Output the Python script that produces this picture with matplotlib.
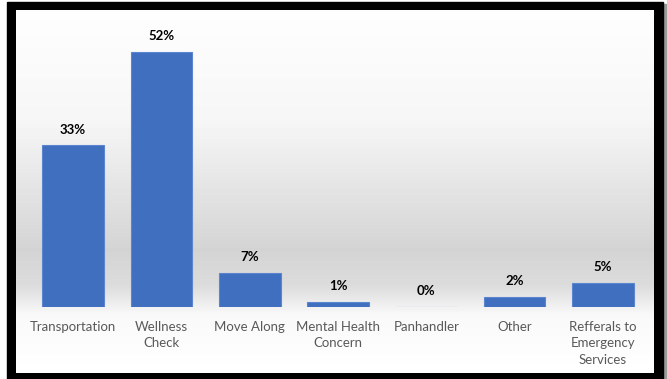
"""
Call types — share of calls by category, bar chart with framed background.
"""

import matplotlib
matplotlib.use("Agg")
import matplotlib.pyplot as plt
import numpy as np
from matplotlib.patches import Rectangle

plt.rcParams["font.family"] = ["Lato", "DejaVu Sans"]

# =============================================================================
# Data
# =============================================================================

categories = [
    "Transportation",
    "Wellness\nCheck",
    "Move Along",
    "Mental Health\nConcern",
    "Panhandler",
    "Other",
    "Refferals to\nEmergency\nServices",
]
shares = [33, 52, 7, 1, 0, 2, 5]

BAR_COLOR = "#416fc0"
EDGE_COLOR = "#5b86cf"
TICK_COLOR = "#595959"

W, H = 667, 379

# =============================================================================
# Figure + frame
# =============================================================================

fig = plt.figure(figsize=(W / 100, H / 100), dpi=100)
fig.patch.set_facecolor("white")

# black frame with a faint shadow on the right
fig.add_artist(Rectangle((663 / W, 0), 4 / W, 1 - 4 / H,
                         transform=fig.transFigure, color="#9a9a9a", zorder=0))
fig.add_artist(Rectangle((7 / W, 0), 656 / W, 1 - 2 / H,
                         transform=fig.transFigure, color="black", zorder=0))

# inner panel: vertical gray gradient
bg = fig.add_axes([16 / W, 6 / H, 638 / W, 363 / H], zorder=1)
ys = np.linspace(0, 1, 363)          # 0 = top of panel
y_px = 10 + ys * 363
shade = np.interp(y_px, [10, 120, 250, 285, 315, 373],
                  [0.995, 0.965, 0.83, 0.86, 0.975, 1.0])
bg.imshow(shade[:, None], cmap="gray", vmin=0, vmax=1, aspect="auto",
          extent=[0, 1, 0, 1])
bg.set_axis_off()

# =============================================================================
# Bars
# =============================================================================

ax = fig.add_axes([29 / W, (H - 307) / H, 618 / W, 294 / H], zorder=2)
ax.patch.set_alpha(0)
x = np.arange(len(categories))
bars = ax.bar(x, shares, width=0.70, color=BAR_COLOR,
              edgecolor=EDGE_COLOR, linewidth=0.8)

for b, v in zip(bars, shares):
    ax.text(b.get_x() + b.get_width() / 2, v + 2.0, f"{v}%",
            ha="center", va="bottom", fontsize=9.5, fontweight="bold",
            color="black")

ax.set_xlim(-0.5, len(categories) - 0.5)
ax.set_ylim(0, 60)
ax.set_xticks(x)
ax.set_xticklabels(categories, fontsize=9.5, color=TICK_COLOR,
                   linespacing=1.45, va="top")
ax.tick_params(axis="x", length=0, pad=10)
ax.set_yticks([])
for s in ax.spines.values():
    s.set_visible(False)

fig.savefig("out.png", dpi=100)
print("Saved: out.png")
